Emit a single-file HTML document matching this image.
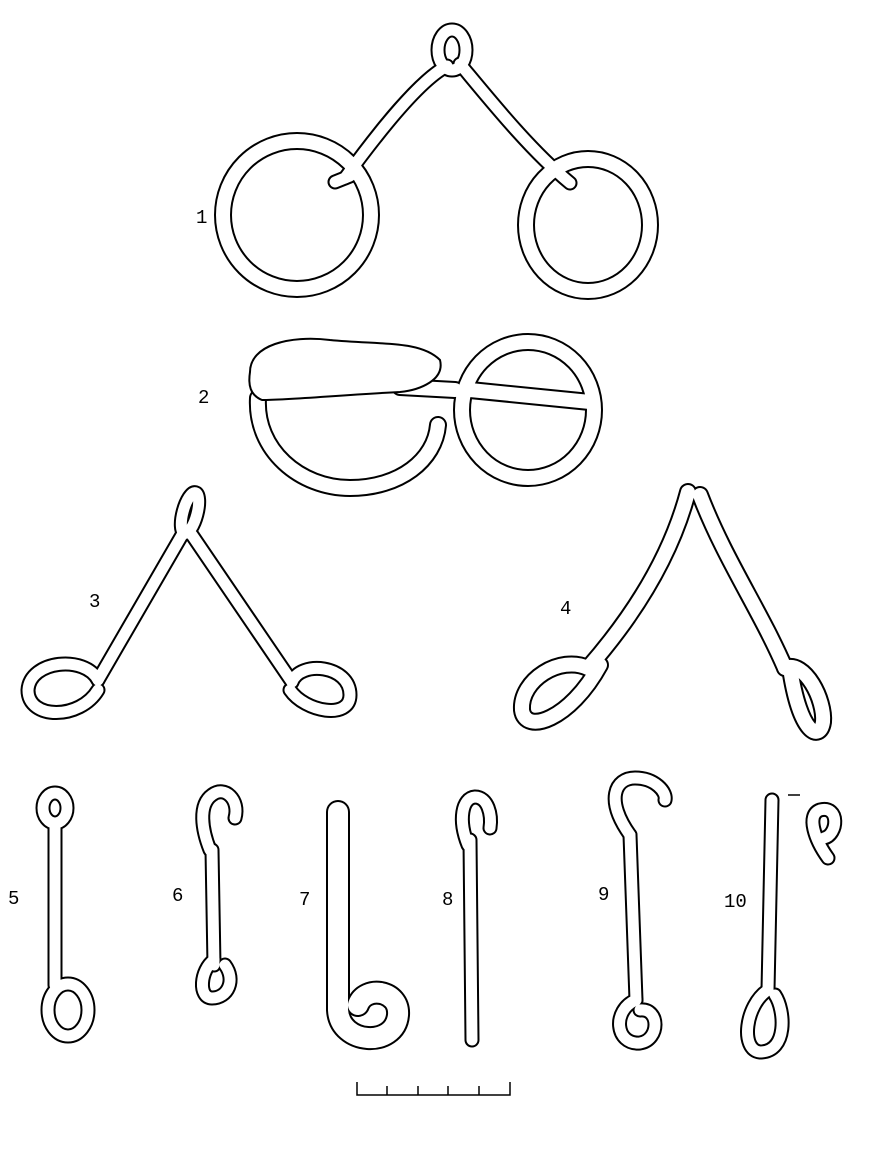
<!DOCTYPE html>
<html><head><meta charset="utf-8"><style>
html,body{margin:0;padding:0;background:#fff;}
svg{display:block}
text{font-family:"Liberation Mono",monospace;font-size:19px;fill:#000}
</style></head><body>
<svg width="870" height="1149" viewBox="0 0 870 1149" xmlns="http://www.w3.org/2000/svg">
<defs>
<g id="thick">
  <ellipse cx="297" cy="215" rx="74" ry="74"/>
  <ellipse cx="588" cy="225" rx="62" ry="66"/>
  <path d="M258 398 C255 450 300 488 350 488 C400 488 435 460 438 425"/>
  <ellipse cx="528" cy="410" rx="66" ry="68"/>
  <path d="M470 390 L590 402"/>
  <path d="M400 387 L455 390"/>
  <path d="M688 492 C670 560 630 620 588 668"/>
  <path d="M700 495 C725 560 760 610 785 668"/>
  <path d="M588 668 C560 655 520 680 522 710 C525 735 570 720 600 665"/>
  <path d="M785 668 C805 660 825 700 823 722 C820 742 800 735 790 668"/>
</g>
<g id="mid">
  <ellipse cx="452" cy="50" rx="14" ry="20"/>
  <path d="M447 66 C420 80 380 130 345 178"/>
  <path d="M460 64 C490 100 530 150 570 183"/>
  <path d="M335 182 L350 176"/>
  <path d="M182 535 L98 680"/>
  <path d="M192 535 L292 682"/>
  <path d="M98 680 C85 655 30 660 28 690 C28 720 80 720 98 690"/>
  <path d="M292 682 C300 660 350 665 350 695 C350 720 305 712 290 690"/>
  <ellipse cx="190" cy="513" rx="7" ry="21" transform="rotate(15 190 513)"/>
  <path d="M55 825 L55 985"/>
  <ellipse cx="55" cy="808" rx="12" ry="15"/>
  <ellipse cx="68" cy="1010" rx="20" ry="26"/>
  <path d="M210 850 C202 830 198 805 212 795 C225 785 240 800 235 818"/>
  <path d="M212 850 L214 965"/>
  <path d="M214 960 C200 970 198 998 212 998 C228 998 236 980 225 965"/>
  <path d="M470 840 L472 1040"/>
  <path d="M468 845 C458 820 462 798 475 797 C488 797 492 815 490 828"/>
  <path d="M630 835 L636 1000"/>
  <path d="M630 835 C605 800 615 778 635 778 C655 778 667 792 665 800"/>
  <path d="M636 1000 C612 1010 615 1045 640 1043 C660 1040 660 1008 640 1010"/>
  <path d="M772 800 L768 990"/>
  <path d="M768 990 C745 1005 740 1050 760 1052 C788 1052 785 1010 775 995"/>
  <path d="M828 858 C815 840 806 815 820 810 C840 805 838 835 824 838"/>
</g>
<g id="wide">
  <path d="M338 812 L338 1010 C340 1045 395 1048 398 1015 C400 990 365 985 358 1005"/>
</g>
</defs>
<g fill="none" stroke="#000" stroke-linecap="round" stroke-linejoin="round">
  <use href="#thick" stroke-width="18"/>
  <use href="#mid" stroke-width="15"/>
  <use href="#wide" stroke-width="24"/>
</g>
<g fill="none" stroke="#fff" stroke-linecap="round" stroke-linejoin="round">
  <use href="#thick" stroke-width="14"/>
  <use href="#mid" stroke-width="11"/>
  <use href="#wide" stroke-width="20"/>
</g>
<path d="M250 372 C250 345 290 335 330 340 C380 345 420 340 440 360 C445 380 420 390 400 392 C340 395 290 400 262 400 C250 395 248 385 250 372Z" fill="#fff" stroke="#000" stroke-width="2"/>
<line x1="788" y1="795" x2="800" y2="795" stroke="#000" stroke-width="1.5"/>
<g stroke="#000" stroke-width="1.5" fill="none">
<path d="M357 1082 L357 1095 L510 1095 L510 1082"/>
<line x1="387" y1="1086" x2="387" y2="1095"/>
<line x1="418" y1="1086" x2="418" y2="1095"/>
<line x1="448" y1="1086" x2="448" y2="1095"/>
<line x1="479" y1="1086" x2="479" y2="1095"/>
</g>
<text x="196" y="223">1</text>
<text x="198" y="403">2</text>
<text x="89" y="607">3</text>
<text x="560" y="614">4</text>
<text x="8" y="904">5</text>
<text x="172" y="901">6</text>
<text x="299" y="905">7</text>
<text x="442" y="905">8</text>
<text x="598" y="900">9</text>
<text x="724" y="907">10</text>
</svg>
</body></html>
